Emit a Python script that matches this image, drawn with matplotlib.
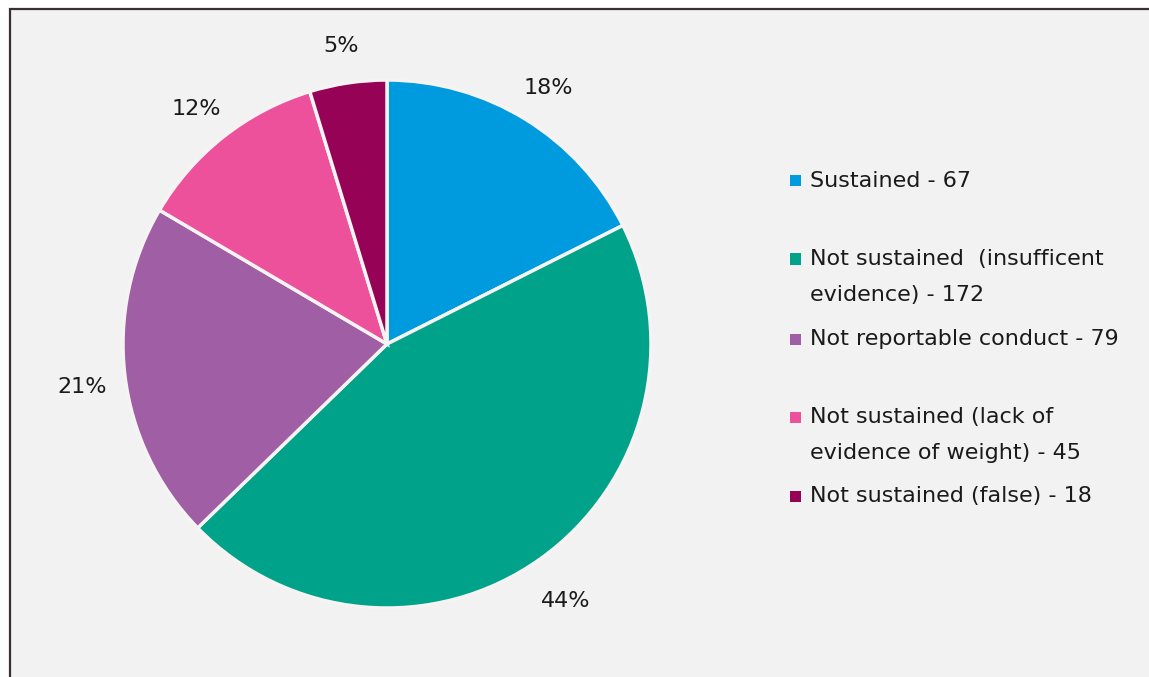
import matplotlib.pyplot as plt
from matplotlib.patches import Rectangle

# data
categories = ['Sustained - 67',
              'Not sustained  (insufficent\nevidence) - 172',
              'Not reportable conduct - 79',
              'Not sustained (lack of\nevidence of weight) - 45',
              'Not sustained (false) - 18']
values = [67, 172, 79, 45, 18]
pct_labels = ['18%', '44%', '21%', '12%', '5%']
colors = ['#009ADE', '#00A28A', '#A05EA5', '#EE519B', '#960256']

W, H = 1149, 677
plt.rcParams['font.family'] = ['DejaVu Sans']
FS = 16

fig = plt.figure(figsize=(W / 100, H / 100), dpi=100)
fig.patch.set_facecolor('white')

# panel background with left/top border
fig.patches.append(Rectangle((9.5 / W, -0.05), 1.1, (H - 8.5) / H + 0.05,
                             transform=fig.transFigure, facecolor='#f2f2f2',
                             edgecolor='#3a3030', linewidth=1.6, zorder=-5))

# pie axes: centre (387, 344) px, radius 264 px
cx, cy, r = 387, 344, 264
span = 1.3
size = r * span * 2
ax = fig.add_axes([(cx - size / 2) / W, (H - cy - size / 2) / H, size / W, size / H])
ax.set_facecolor('none')
ax.set_zorder(1)
wedges, texts = ax.pie(values, labels=pct_labels, colors=colors, startangle=90,
                       counterclock=False, radius=1, labeldistance=1.165,
                       wedgeprops=dict(edgecolor='#f6f4f2', linewidth=2.5),
                       textprops=dict(fontsize=FS, color='#1a1a1a'))
for t in texts:
    t.set_ha('center')
    t.set_va('center_baseline')
    x, y = t.get_position()
    t.set_position((x, y - 4 / r))
ax.set_xlim(-span, span)
ax.set_ylim(-span, span)
ax.set_aspect('equal')
ax.axis('off')

# manual legend (pixel layout)
line_rows = [[180], [258, 294], [338], [416, 452], [495]]
for label, col, rows in zip(categories, colors, line_rows):
    y0 = rows[0] + 1
    fig.patches.append(Rectangle((790 / W, (H - y0 - 5.5) / H), 11 / W, 11 / H,
                                 transform=fig.transFigure, facecolor=col,
                                 edgecolor='none', zorder=2))
    for line, y in zip(label.split('\n'), rows):
        fig.text(810 / W, (H - y + 1) / H, line, fontsize=FS, color='#1a1a1a',
                 ha='left', va='center_baseline')

fig.savefig('out.png', dpi=100, facecolor=fig.get_facecolor())
